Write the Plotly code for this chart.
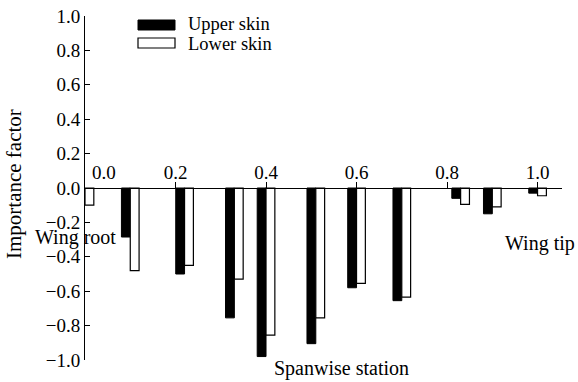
import plotly.graph_objects as go

# Data
stations = [0.0, 0.1, 0.22, 0.33, 0.40, 0.51, 0.60, 0.70, 0.83, 0.90, 1.0]
upper_skin = [0.0, -0.285, -0.50, -0.755, -0.98, -0.905, -0.58, -0.655, -0.06, -0.15, -0.03]
lower_skin = [-0.10, -0.48, -0.45, -0.53, -0.855, -0.755, -0.555, -0.635, -0.095, -0.11, -0.045]
series_names = ["Upper skin", "Lower skin"]
x_tick_vals = [0.2, 0.4, 0.6, 0.8, 1.0]
x_tick_text = ["0.2", "0.4", "0.6", "0.8", "1.0"]
y_tick_vals = [-1.0, -0.8, -0.6, -0.4, -0.2, 0.0, 0.2, 0.4, 0.6, 0.8, 1.0]
y_tick_text = ["\u22121.0", "\u22120.8", "\u22120.6", "\u22120.4", "\u22120.2",
               "0.0", "0.2", "0.4", "0.6", "0.8", "1.0"]

FONT = "Liberation Serif"
BW = 0.0195

fig = go.Figure()
fig.add_trace(go.Bar(x=stations, y=upper_skin, name=series_names[0], width=BW, offset=-BW,
                     marker=dict(color="black", line=dict(color="black", width=1)),
                     showlegend=False))
fig.add_trace(go.Bar(x=stations, y=lower_skin, name=series_names[1], width=BW, offset=0,
                     marker=dict(color="white", line=dict(color="black", width=1.2)),
                     showlegend=False))

L, R, T, B = 85, 16, 16, 22
W, H = 578, 382
pw, ph = W - L - R, H - T - B

def px(x):
    return (x - L) / pw

def py(y):
    return (H - B - y) / ph

TICKFONT = dict(family=FONT, size=19, color="black")

fig.update_layout(
    width=W, height=H,
    margin=dict(l=L, r=R, t=T, b=B, autoexpand=False),
    paper_bgcolor="white", plot_bgcolor="white",
    font=dict(family=FONT, size=19, color="black"),
    barmode="overlay",
    xaxis=dict(range=[0, 1.054], anchor="free", position=0.5, side="top",
               showline=True, linecolor="black", linewidth=1,
               ticks="outside", ticklen=6, tickcolor="black",
               tickvals=x_tick_vals, ticktext=x_tick_text, tickfont=TICKFONT,
               ticklabelstandoff=-5,
               showgrid=False, zeroline=False, automargin=False),
    yaxis=dict(range=[-1, 1], showline=True, linecolor="black", linewidth=1,
               ticks="inside", ticklen=5, tickcolor="black",
               tickvals=y_tick_vals, ticktext=y_tick_text, tickfont=TICKFONT,
               showgrid=False, zeroline=False, automargin=False),
)

shapes = [
    dict(type="rect", xref="paper", yref="paper", x0=px(138), x1=px(175), y0=py(30), y1=py(20),
         fillcolor="black", line=dict(color="black", width=1)),
    dict(type="rect", xref="paper", yref="paper", x0=px(138), x1=px(175), y0=py(48), y1=py(38),
         fillcolor="white", line=dict(color="black", width=1.2)),
]
fig.update_layout(shapes=shapes)

ann = [
    dict(text=series_names[0], x=px(186), y=py(24), xanchor="left", yanchor="middle", size=18.5),
    dict(text=series_names[1], x=px(186), y=py(44), xanchor="left", yanchor="middle", size=18.5),
    dict(text="0.0", x=px(104), y=py(172), xanchor="center", yanchor="middle", size=19),
    dict(text="Importance factor", x=px(14), y=py(184), textangle=-90, xanchor="center", yanchor="middle", size=21),
    dict(text="Wing root", x=px(75), y=py(237), xanchor="center", yanchor="middle", size=20),
    dict(text="Wing tip", x=px(540), y=py(243), xanchor="center", yanchor="middle", size=20),
    dict(text="Spanwise station", x=px(341), y=py(368), xanchor="center", yanchor="middle", size=20),
]
for a in ann:
    s = a.pop("size")
    a.update(xref="paper", yref="paper", showarrow=False, font=dict(family=FONT, size=s, color="black"))
fig.update_layout(annotations=ann)

fig.write_html("out.html", config={"displayModeBar": False},
               post_script="document.body.style.margin='0';document.body.style.padding='0';")
